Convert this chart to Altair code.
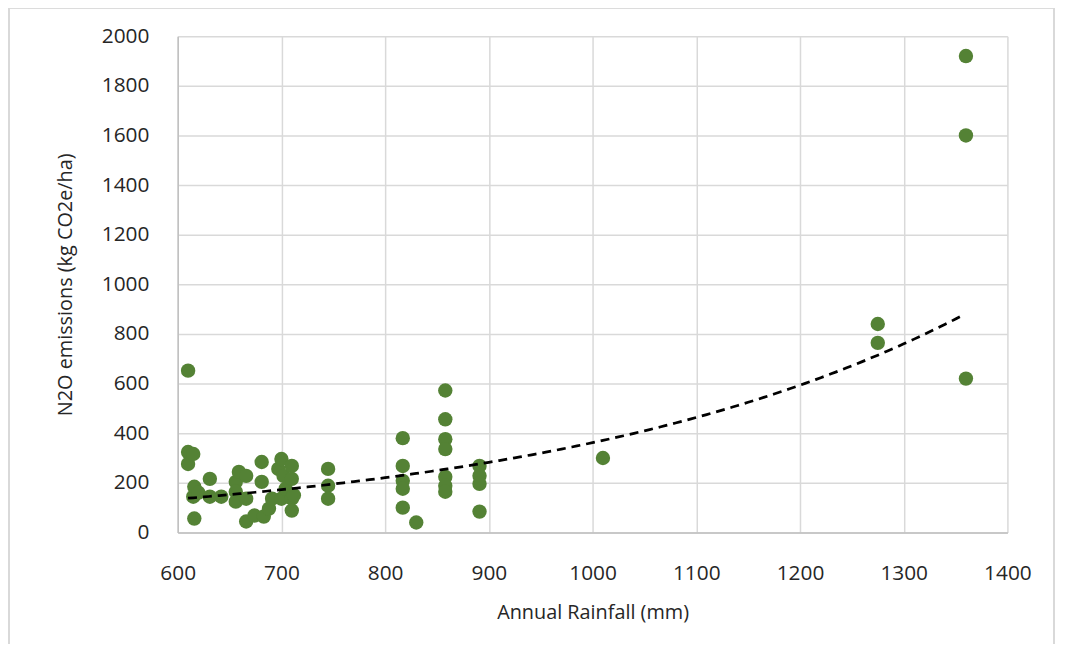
import altair as alt
import pandas as pd

# Annual rainfall (mm) and N2O emissions (kg CO2e/ha)
rainfall = [610, 610, 610, 615, 615, 616, 616, 620, 631, 631, 642,
            656, 656, 656, 659, 666, 666, 666, 674, 681, 681, 683, 688, 691,
            697, 700, 700, 702, 704, 710, 710, 710, 710, 712,
            745, 745, 745,
            817, 817, 817, 817, 817, 830,
            858, 858, 858, 858, 858, 858, 858,
            891, 891, 891, 891,
            1010, 1275, 1275, 1360, 1360, 1360]
emissions = [652, 324, 276, 316, 144, 184, 56, 160, 216, 144, 144,
             204, 164, 124, 244, 228, 136, 44, 68, 284, 204, 64, 96, 136,
             256, 296, 136, 228, 176, 268, 216, 136, 88, 150,
             256, 188, 136,
             380, 268, 208, 176, 100, 40,
             572, 456, 376, 336, 224, 188, 164,
             268, 228, 196, 84,
             300, 840, 764, 1920, 1600, 620]

x_ticks = [600, 700, 800, 900, 1000, 1100, 1200, 1300, 1400]
y_ticks = [0, 200, 400, 600, 800, 1000, 1200, 1400, 1600, 1800, 2000]

df = pd.DataFrame({"rain": rainfall, "n2o": emissions})

FONT = "Open Sans"
GRID = "#d9d9d9"

x_scale = alt.Scale(domain=[600, 1400], nice=False, zero=False)
y_scale = alt.Scale(domain=[0, 2000], nice=False)

x_enc = alt.X("rain:Q", scale=x_scale,
              axis=alt.Axis(values=x_ticks, format="d", title="Annual Rainfall (mm)",
                            grid=True, labelFlush=False))
y_enc = alt.Y("n2o:Q", scale=y_scale,
              axis=alt.Axis(values=y_ticks, format="d", title="N2O emissions (kg CO2e/ha)",
                            grid=True, labelFlush=False))

points = alt.Chart(df).mark_circle(size=210, color="#548235", opacity=1).encode(
    x=x_enc, y=y_enc
)

# Exponential trendline (least squares on ln y, as a spreadsheet does)
trend = alt.Chart(df).transform_calculate(
    lny="log(datum.n2o)"
).transform_regression(
    "rain", "lny", method="linear", params=True
).transform_calculate(
    grid="sequence(610, 1356, 5)"
).transform_flatten(
    ["grid"]
).transform_calculate(
    fit="exp(datum.coef[0] + datum.coef[1] * datum.grid)"
).mark_line(color="black", strokeWidth=2.75, strokeDash=[9, 6]).encode(
    x=alt.X("grid:Q", scale=x_scale), y=alt.Y("fit:Q", scale=y_scale)
)

frame = alt.Chart(df).mark_rect(fill=None, stroke=GRID, strokeWidth=1.5).encode(
    x=alt.value(-170), x2=alt.value(883), y=alt.value(-29), y2=alt.value(660)
)

chart = alt.layer(frame, points, trend).properties(
    width=836, height=500,
    autosize="none",
    padding={"left": 171, "top": 26, "right": 56, "bottom": 110},
).configure_view(stroke=None).configure_axis(
    labelFont=FONT, titleFont=FONT, labelFontSize=21, titleFontSize=20,
    labelColor="#262626", titleColor="#262626", titleFontWeight="normal",
    gridColor=GRID, gridWidth=1.5, domainColor="#bfbfbf", domainWidth=1.5,
    ticks=False,
).configure_axisY(
    labelPadding=29, titlePadding=26
).configure_axisX(
    labelPadding=30, titlePadding=20
)

chart.save("out.html", embed_options={"renderer": "svg", "actions": False})
